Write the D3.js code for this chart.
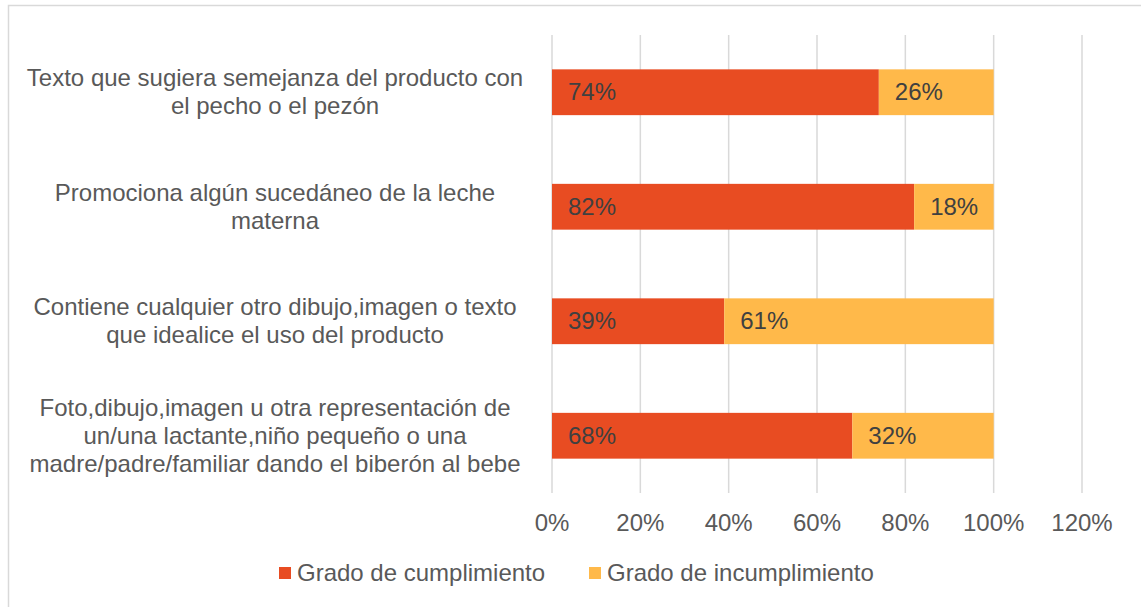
<!DOCTYPE html>
<html>
<head>
<meta charset="utf-8">
<script src="https://cdn.jsdelivr.net/npm/d3@7"></script>
<style>
  body { margin: 0; background: #fff; }
  svg { font-family: "Liberation Sans", Arial, sans-serif; }
</style>
</head>
<body>
<div class="wrap"></div>
<script>
// data
var categories = [
    ["Texto que sugiera semejanza del producto con", "el pecho o el pezón"],
    ["Promociona algún sucedáneo de la leche", "materna"],
    ["Contiene cualquier otro dibujo,imagen o texto", "que idealice el uso del producto"],
    ["Foto,dibujo,imagen u otra representación de", "un/una lactante,niño pequeño o una", "madre/padre/familiar dando el biberón al bebe"]
]
var cumple = [74, 82, 39, 68]
var incumple = [26, 18, 61, 32]
var seriesNames = ["Grado de cumplimiento", "Grado de incumplimiento"]
var tickValues = [0, 20, 40, 60, 80, 100, 120]

var colors = ["#E84C22", "#FFB94A"]
var fsize = 24

var width = 1141, height = 607
var svg = d3.select('.wrap').append('svg')
    .attr("width", width)
    .attr("height", height)

// chart frame
svg.append('rect')
    .attr("x", 8.5).attr("y", 5.5)
    .attr("width", 1150).attr("height", 620)
    .attr("fill", "none")
    .attr("stroke", "#d9d9d9")
    .attr("stroke-width", 1.5)

var plotTop = 35, plotBottom = 493
var xscale = d3.scaleLinear().domain([0, 120]).range([552, 1082])
var yscale = d3.scaleBand()
    .domain(categories.map((c, i) => i))
    .range([plotTop, plotBottom])
    .paddingInner(0.6).paddingOuter(0.3)

// gridlines
svg.append('g').selectAll('line')
    .data(tickValues)
    .enter().append('line')
    .attr("x1", d => xscale(d)).attr("x2", d => xscale(d))
    .attr("y1", plotTop).attr("y2", plotBottom)
    .attr("stroke", "#d9d9d9")
    .attr("stroke-width", 1.5)

// tick labels
svg.append('g').selectAll('text')
    .data(tickValues)
    .enter().append('text')
    .attr("x", d => xscale(d))
    .attr("y", 531)
    .attr("text-anchor", "middle")
    .attr("font-size", fsize)
    .attr("fill", "#595959")
    .text(d => d + "%")

// stacked bars
var rows = categories.map((c, i) => [
    {series: 0, start: 0, value: cumple[i], row: i},
    {series: 1, start: cumple[i], value: incumple[i], row: i}
])

var bars = svg.append('g').attr("class", "gv-bars")
var rowsG = bars.selectAll('.gv-row')
    .data(rows)
    .enter().append('g')
    .attr("class", "gv-row")

rowsG.selectAll('rect')
    .data(d => d)
    .enter().append('rect')
    .attr("x", d => xscale(d.start))
    .attr("y", d => yscale(d.row))
    .attr("width", d => xscale(d.start + d.value) - xscale(d.start))
    .attr("height", yscale.bandwidth())
    .attr("fill", d => colors[d.series])

rowsG.selectAll('text')
    .data(d => d)
    .enter().append('text')
    .attr("x", d => xscale(d.start) + 16)
    .attr("y", d => yscale(d.row) + yscale.bandwidth() / 2 + 8)
    .attr("font-size", fsize)
    .attr("fill", "#404040")
    .text(d => d.value + "%")

// category labels
var labels = svg.append('g').selectAll('text')
    .data(categories)
    .enter().append('text')
    .attr("text-anchor", "middle")
    .attr("font-size", fsize)
    .attr("fill", "#595959")
    .attr("transform", (d, i) => {
        var cy = yscale(i) + yscale.bandwidth() / 2
        var y0 = cy - (d.length - 1) * 28 / 2 + 8
        return `translate(275,${y0})`
    })

labels.selectAll('tspan')
    .data(d => d)
    .enter().append('tspan')
    .attr("x", 0)
    .attr("dy", (d, i) => i == 0 ? 0 : 28)
    .text(d => d)

// legend
var legendX = [279, 589]
var legend = svg.append('g').selectAll('g')
    .data(seriesNames)
    .enter().append('g')
    .attr("transform", (d, i) => `translate(${legendX[i]},567)`)

legend.append('rect')
    .attr("width", 12).attr("height", 12)
    .attr("fill", (d, i) => colors[i])

legend.append('text')
    .attr("x", 18).attr("y", 14)
    .attr("font-size", fsize)
    .attr("fill", "#595959")
    .text(d => d)
</script>
</body>
</html>
